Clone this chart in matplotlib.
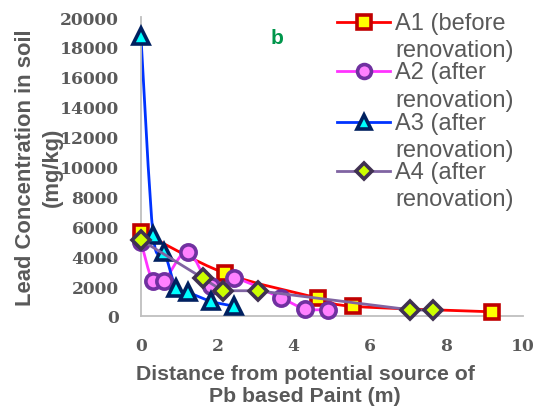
import matplotlib
matplotlib.use("Agg")
import matplotlib.pyplot as plt
from matplotlib.lines import Line2D
from matplotlib.path import Path
from matplotlib.patches import PathPatch
import numpy as np

# Distance from the paint source (m) and lead concentration (mg/kg)
a1_x = [0.0, 2.19, 4.64, 5.56, 9.2]
a1_y = [5650, 2870, 1200, 650, 280]

a2_x = [0.0, 0.31, 0.61, 1.22, 1.84, 2.45, 3.67, 4.29, 4.9]
a2_y = [4980, 2310, 2360, 4310, 1980, 2530, 1200, 490, 420]

a3_x = [0.0, 0.32, 0.61, 0.92, 1.22, 1.84, 2.45]
a3_y = [18700, 5420, 4310, 1870, 1600, 980, 650]

a4_x = [0.0, 1.62, 2.14, 3.06, 7.04, 7.66]
a4_y = [5090, 2530, 1690, 1690, 420, 380]

labels = ["A1 (before\nrenovation)", "A2 (after\nrenovation)",
          "A3 (after\nrenovation)", "A4 (after\nrenovation)"]
x_ticks = [0, 2, 4, 6, 8, 10]
y_ticks = list(range(0, 20001, 2000))

GREY = "#595959"

styles = [
    dict(line="#FF0000", edge="#C00000", face="#FFFF00", marker="s", ms=10.5, smooth=True),
    dict(line="#FF33FF", edge="#7030A0", face="#FF80FF", marker="o", ms=11, smooth=True),
    dict(line="#0033FF", edge="#002060", face="#00FFFF", marker="^", ms=11.5, smooth=True),
    dict(line="#8064A2", edge="#403152", face="#CCFF00", marker="D", ms=9.5, smooth=False),
]
series = [(a1_x, a1_y), (a2_x, a2_y), (a3_x, a3_y), (a4_x, a4_y)]


def smooth_path(xs, ys):
    """Cubic Bezier path through the points (Catmull-Rom style smoothing)."""
    pts = np.column_stack([xs, ys]).astype(float)
    n = len(pts)
    verts = [pts[0]]
    codes = [Path.MOVETO]
    for i in range(n - 1):
        p0 = pts[i - 1] if i > 0 else pts[i]
        p1 = pts[i]
        p2 = pts[i + 1]
        p3 = pts[i + 2] if i + 2 < n else pts[i + 1]
        c1 = p1 + (p2 - p0) / 6.0
        c2 = p2 - (p3 - p1) / 6.0
        verts += [c1, c2, p2]
        codes += [Path.CURVE4] * 3
    return Path(verts, codes)


fig = plt.figure(figsize=(5.4, 4.14), dpi=100)
ax = fig.add_axes([0.261, 0.2343, 0.968 - 0.261, 0.9565 - 0.2343])

for (xs, ys), st in zip(series, styles):
    if st["smooth"]:
        ax.add_patch(PathPatch(smooth_path(xs, ys), facecolor="none",
                               edgecolor=st["line"], lw=2.0, zorder=2))
        ls = "none"
    else:
        ls = "-"
    ax.plot(xs, ys, linestyle=ls, color=st["line"], lw=2.0,
            marker=st["marker"], ms=st["ms"], mfc=st["face"],
            mec=st["edge"], mew=2.6, zorder=3, clip_on=False)

ax.set_xlim(0, 10)
ax.set_ylim(0, 20000)
ax.set_xticks(x_ticks)
ax.set_yticks(y_ticks)
for sp in ["top", "right"]:
    ax.spines[sp].set_visible(False)
for sp in ["left", "bottom"]:
    ax.spines[sp].set_color("#BFBFBF")
    ax.spines[sp].set_linewidth(1.3)
ax.tick_params(length=0)
ax.tick_params(axis="y", pad=16)
ax.tick_params(axis="x", pad=15)
for lab in ax.get_xticklabels() + ax.get_yticklabels():
    lab.set_fontfamily("DejaVu Serif")
    lab.set_fontweight("bold")
    lab.set_fontsize(12.3)
    lab.set_color(GREY)

ax.set_xlabel("Distance from potential source of\nPb based Paint (m)",
              fontfamily="Liberation Sans", fontweight="bold", fontsize=15.3,
              color=GREY, linespacing=1.2)
ax.xaxis.set_label_coords(0.43, -0.16, transform=ax.transAxes)
ax.xaxis.label.set_va("top")
ax.set_ylabel("Lead Concentration in soil\n(mg/kg)",
              fontfamily="Liberation Sans", fontweight="bold", fontsize=15.8,
              color=GREY, linespacing=1.35)
ax.yaxis.set_label_coords(-0.205, 0.5, transform=ax.transAxes)

fig.text(277 / 540, 1 - 38 / 414, "b", color="#00964B", fontsize=15,
         fontweight="bold", fontfamily="Liberation Sans",
         ha="center", va="center")

# Legend drawn entry by entry: handle aligned with the first text line
W, H = 540.0, 414.0
entry_y = [23, 72, 123, 172]
line_gap = 27.5
for st, lab, ypx in zip(styles, labels, entry_y):
    yf = 1 - ypx / H
    fig.add_artist(Line2D([337 / W, 390 / W], [yf, yf], transform=fig.transFigure,
                          color=st["line"], lw=2.0))
    fig.add_artist(Line2D([363.5 / W], [yf], transform=fig.transFigure,
                          marker=st["marker"], ms=st["ms"] - 1, mfc=st["face"],
                          mec=st["edge"], mew=2.6, linestyle="none"))
    for k, part in enumerate(lab.split("\n")):
        fig.text(395 / W, 1 - (ypx + k * line_gap + 1) / H, part,
                 fontfamily="Liberation Sans", fontsize=17, color=GREY,
                 ha="left", va="center")

fig.savefig("out.png", dpi=100)
